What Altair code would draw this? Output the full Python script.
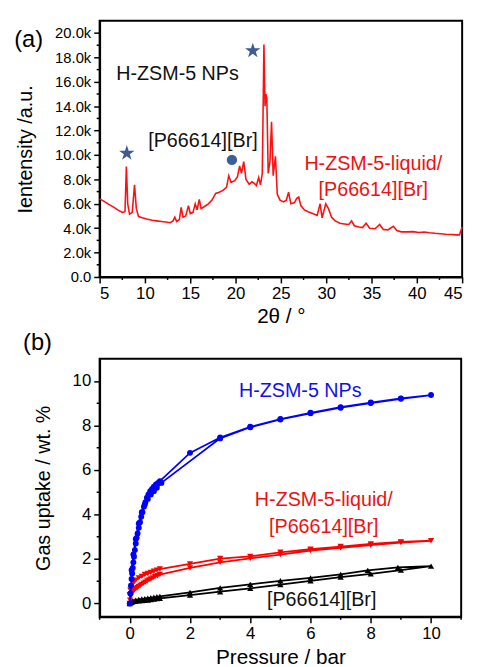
import altair as alt
import pandas as pd

FONT = "Liberation Sans"

# ---------------- Panel (a): XRD pattern ----------------
xrd_2theta = [5.0, 5.5, 6.0, 6.5, 7.0, 7.5, 7.8, 7.95, 8.1, 8.3, 8.6, 8.85, 9.05, 9.3, 9.7,
              10.2, 10.8, 11.3, 11.8, 12.3, 12.8, 13.1, 13.3, 13.5, 13.8, 14.0, 14.2, 14.5,
              14.8, 15.0, 15.3, 15.55, 15.75, 16.0, 16.2, 16.6, 17.0, 17.4, 17.8, 18.2, 18.6,
              19.0, 19.25, 19.5, 19.9, 20.2, 20.45, 20.65, 20.9, 21.15, 21.5, 21.8, 22.1,
              22.3, 22.55, 22.75, 22.95, 23.13, 23.25, 23.35, 23.45, 23.6, 23.8, 23.97,
              24.15, 24.4, 24.6, 24.9, 25.3, 25.6, 25.85, 26.1, 26.5, 26.75, 26.97, 27.2,
              27.6, 28.0, 28.5, 29.0, 29.33, 29.55, 29.95, 30.25, 30.6, 31.0, 31.5, 32.0,
              32.5, 32.8, 33.1, 33.6, 34.0, 34.4, 34.8, 35.4, 35.9, 36.3, 36.8, 37.4, 37.8,
              38.3, 39.0, 39.6, 40.2, 40.8, 41.4, 42.0, 42.6, 43.2, 43.8, 44.3, 44.7, 45.0]
xrd_intensity = [6400, 6200, 5950, 5750, 5500, 5300, 5350, 9050, 6000, 5150, 5300, 7550, 5600,
                 4950, 4850, 4750, 4650, 4600, 4550, 4500, 4450, 4600, 4900, 4550, 4700, 5700,
                 4900, 5000, 5850, 5200, 5300, 6000, 5500, 6350, 5600, 5800, 6000, 6300, 6850,
                 6950, 7100, 7350, 8300, 7750, 7900, 8200, 9100, 8500, 9450, 8000, 7600, 7800,
                 7650, 7500, 8150, 7550, 8500, 19060, 14000, 15000, 14600, 8500, 9500, 12730,
                 8300, 9900, 6800, 6300, 6150, 6300, 6950, 6000, 6100, 6450, 6550, 5850, 5500,
                 5350, 5200, 5050, 6000, 4850, 6000, 5600, 4900, 4600, 4400, 4350, 4300, 4600,
                 4200, 4100, 4050, 4400, 4000, 3950, 4300, 3900, 3850, 4150, 3800, 3700, 3700,
                 3720, 3650, 3680, 3620, 3580, 3550, 3500, 3480, 3450, 3450, 4100]

a_x_major = [5, 10, 15, 20, 25, 30, 35, 40, 45]
a_x_minor = [7.5, 12.5, 17.5, 22.5, 27.5, 32.5, 37.5, 42.5]
a_y_major = [0, 2000, 4000, 6000, 8000, 10000, 12000, 14000, 16000, 18000, 20000]
a_y_minor = [1000, 3000, 5000, 7000, 9000, 11000, 13000, 15000, 17000, 19000]

star_x = [21.9, 8.0]
star_y = [18550, 10150]
circle_x = [19.6]
circle_y = [9600]

a_black_text = ["H-ZSM-5 NPs", "[P66614][Br]"]
a_black_x = [13.6, 16.4]
a_black_y = [16600, 11130]
a_red_text = ["H-ZSM-5-liquid/", "[P66614][Br]"]
a_red_x = [35.2, 35.2]
a_red_y = [9270, 7100]

# ---------------- Panel (b): gas uptake isotherms ----------------
blue_ads_p = [0, 0.02, 0.04, 0.06, 0.08, 0.1, 0.12, 0.14, 0.17, 0.2, 0.23, 0.26, 0.3, 0.34,
              0.38, 0.42, 0.47, 0.52, 0.57, 0.62, 0.68, 0.74, 0.8, 0.87, 0.94, 1.0, 2.0, 3.0,
              4.0, 5.0, 6.0, 7.0, 8.0, 9.0, 10.0]
blue_ads_y = [0.0, 0.45, 0.8, 1.1, 1.35, 1.6, 1.85, 2.1, 2.4, 2.7, 2.95, 3.15, 3.4, 3.65,
              3.9, 4.1, 4.35, 4.55, 4.75, 4.9, 5.05, 5.15, 5.25, 5.35, 5.42, 5.5, 6.77, 7.46,
              7.94, 8.29, 8.57, 8.82, 9.03, 9.22, 9.37]
blue_des_p = [9.0, 8.0, 7.0, 6.0, 5.0, 4.0, 3.0, 1.05, 0.9, 0.8, 0.7, 0.6, 0.5, 0.4, 0.3,
              0.2, 0.12, 0.06]
blue_des_y = [9.2, 9.01, 8.8, 8.55, 8.27, 7.92, 7.42, 5.42, 5.2, 5.05, 4.9, 4.7, 4.45, 4.1,
              3.6, 2.9, 2.2, 1.5]

red_ads_p = [0, 0.01, 0.03, 0.06, 0.1, 0.15, 0.2, 0.25, 0.3, 0.35, 0.4, 0.46, 0.52, 0.58,
             0.64, 0.7, 0.77, 0.84, 0.92, 1.0, 2.0, 3.0, 4.0, 5.0, 6.0, 7.0, 8.0, 9.0, 10.0]
red_ads_y = [0.0, 0.15, 0.3, 0.42, 0.52, 0.6, 0.66, 0.71, 0.76, 0.81, 0.86, 0.91, 0.96, 1.01,
             1.06, 1.1, 1.15, 1.2, 1.25, 1.3, 1.6, 1.85, 2.03, 2.2, 2.38, 2.5, 2.62, 2.74, 2.82]
red_des_p = [9.0, 8.0, 7.0, 6.0, 5.0, 4.0, 3.0, 2.0, 1.0, 0.9, 0.8, 0.7, 0.6, 0.5, 0.4, 0.3,
             0.2, 0.12, 0.06, 0.02, 0.0]
red_des_y = [2.77, 2.68, 2.56, 2.44, 2.3, 2.12, 2.02, 1.78, 1.55, 1.5, 1.45, 1.4, 1.35, 1.3,
             1.22, 1.15, 1.05, 0.92, 0.78, 0.6, 0.4]

black_ads_p = [0, 0.03, 0.06, 0.1, 0.15, 0.2, 0.3, 0.4, 0.5, 0.6, 0.7, 0.8, 0.9, 1.0, 2.0,
               3.0, 4.0, 5.0, 6.0, 7.0, 8.0, 9.0, 10.0]
black_ads_y = [0.0, 0.04, 0.07, 0.09, 0.1, 0.11, 0.12, 0.13, 0.14, 0.16, 0.18, 0.2, 0.22,
               0.23, 0.38, 0.53, 0.68, 0.85, 1.02, 1.19, 1.33, 1.5, 1.68]
black_des_p = [8.9, 7.9, 7.0, 6.0, 5.0, 4.0, 3.0, 2.0, 1.0, 0.9, 0.8, 0.7, 0.6, 0.5, 0.4,
               0.3, 0.2, 0.1, 0.05]
black_des_y = [1.62, 1.49, 1.31, 1.15, 1.02, 0.86, 0.7, 0.5, 0.32, 0.3, 0.28, 0.26, 0.24,
               0.22, 0.2, 0.18, 0.15, 0.12, 0.08]

b_x_major = [0, 2, 4, 6, 8, 10]
b_x_minor = [-1, 1, 3, 5, 7, 9, 11]
b_y_major = [0, 2, 4, 6, 8, 10]
b_y_minor = [1, 3, 5, 7, 9]

b_text = ["H-ZSM-5 NPs", "H-ZSM-5-liquid/", "[P66614][Br]", "[P66614][Br]"]
b_text_x = [5.66, 6.44, 6.44, 6.37]
b_text_y = [9.56, 4.63, 3.44, 0.15]
b_text_color = ["#1010ee", "#ee1111", "#ee1111", "#111111"]

A_W, A_H = 368, 260
B_W, B_H = 367, 262

# five-pointed star as a custom symbol path (unit box -1..1)
STAR = ("M0,-1L0.2245,-0.309L0.951,-0.309L0.363,0.118L0.588,0.809L0,0.382"
        "L-0.588,0.809L-0.363,0.118L-0.951,-0.309L-0.2245,-0.309Z")


def axis_common(**kw):
    base = dict(domainColor="black", domainWidth=2, tickColor="black", tickWidth=1.5,
                tickSize=6, labelColor="black", labelFont=FONT, titleFont=FONT,
                titleColor="black", titleFontWeight="normal", grid=False,
                labelOverlap=False, labelPadding=3)
    base.update(kw)
    return alt.Axis(**base)


# ---------------- panel (a) ----------------
xa_scale = alt.Scale(domain=[5, 45], nice=False, zero=False)
ya_scale = alt.Scale(domain=[0, 21000], nice=False)
xa_axis = axis_common(values=a_x_major, labelFontSize=17, title="2θ / °",
                      titleFontSize=21, titlePadding=4)
ya_axis = axis_common(
    values=a_y_major,
    labelExpr="datum.value === 0 ? '0.0' : format(datum.value / 1000, '.1f') + 'k'",
    labelFontSize=15, title="Ientensity /a.u.", titleFontSize=20, titlePadding=19)


def XA(f):
    return alt.X(f, scale=xa_scale, axis=xa_axis)


def YA(f):
    return alt.Y(f, scale=ya_scale, axis=ya_axis)


xrd_df = pd.DataFrame({"theta": xrd_2theta, "intensity": xrd_intensity})
xrd_line = alt.Chart(xrd_df).mark_line(color="#ff1010", strokeWidth=1.6).encode(
    x=XA("theta:Q"), y=YA("intensity:Q"))

minor_xa = alt.Chart(pd.DataFrame({"v": a_x_minor})).mark_rule(
    color="black", strokeWidth=1.5).encode(
    x=XA("v:Q"), y=alt.value(A_H), y2=alt.value(A_H + 3))
minor_ya = alt.Chart(pd.DataFrame({"w": a_y_minor})).mark_rule(
    color="black", strokeWidth=1.5).encode(
    y=YA("w:Q"), x=alt.value(0), x2=alt.value(-3))

stars = alt.Chart(pd.DataFrame({"sx": star_x, "sy": star_y})).mark_point(
    shape=STAR, filled=True, size=270, color="#3b5b92", opacity=1).encode(
    x=XA("sx:Q"), y=YA("sy:Q"))
circle = alt.Chart(pd.DataFrame({"cx": circle_x, "cy": circle_y})).mark_point(
    shape="circle", filled=True, size=110, color="#3b5f98", opacity=1).encode(
    x=XA("cx:Q"), y=YA("cy:Q"))

a_txt_black = alt.Chart(pd.DataFrame({"tx": a_black_x, "ty": a_black_y,
                                      "label": a_black_text})).mark_text(
    font=FONT, fontSize=20, color="#111111", align="center", baseline="middle").encode(
    x=XA("tx:Q"), y=YA("ty:Q"), text="label:N")
a_txt_red = alt.Chart(pd.DataFrame({"tx": a_red_x, "ty": a_red_y,
                                    "label": a_red_text})).mark_text(
    font=FONT, fontSize=20, color="#ee1111", align="center", baseline="middle").encode(
    x=XA("tx:Q"), y=YA("ty:Q"), text="label:N")
a_label = alt.Chart(pd.DataFrame({"label": ["(a)"]})).mark_text(
    font=FONT, fontSize=24, color="black", align="center", baseline="middle").encode(
    x=alt.value(-72), y=alt.value(20), text="label:N")

panel_a = alt.layer(xrd_line, minor_xa, minor_ya, stars, circle, a_txt_black, a_txt_red,
                    a_label).properties(width=A_W, height=A_H)

# ---------------- panel (b) ----------------
xb_scale = alt.Scale(domain=[-1, 11], nice=False, zero=False)
yb_scale = alt.Scale(domain=[-0.6, 11], nice=False, zero=False)
xb_axis = axis_common(values=b_x_major, labelFontSize=17, title="Pressure / bar",
                      titleFontSize=21, titlePadding=5)
yb_axis = axis_common(values=b_y_major, labelFontSize=17, title="Gas uptake / wt. %",
                      titleFontSize=20, titlePadding=19)


def XB(f):
    return alt.X(f, scale=xb_scale, axis=xb_axis)


def YB(f):
    return alt.Y(f, scale=yb_scale, axis=yb_axis)


def series_df(ads_p, ads_y, des_p, des_y):
    p = list(ads_p) + list(des_p)
    u = list(ads_y) + list(des_y)
    return pd.DataFrame({"p": p, "u": u, "k": list(range(len(p)))})


def series_layers(df, color, shape, size):
    line = alt.Chart(df).mark_line(color=color, strokeWidth=1.8).encode(
        x=XB("p:Q"), y=YB("u:Q"), order="k:Q")
    pts = alt.Chart(df).mark_point(shape=shape, filled=True, size=size, color=color,
                                   opacity=1).encode(x=XB("p:Q"), y=YB("u:Q"))
    return [line, pts]


blue_df = series_df(blue_ads_p, blue_ads_y, blue_des_p, blue_des_y)
red_df = series_df(red_ads_p, red_ads_y, red_des_p, red_des_y)
black_df = series_df(black_ads_p, black_ads_y, black_des_p, black_des_y)

b_layers = []
b_layers += series_layers(black_df, "#000000", "triangle-up", 40)
b_layers += series_layers(red_df, "#ff0000", "triangle-down", 40)
b_layers += series_layers(blue_df, "#0000ff", "circle", 36)

minor_xb = alt.Chart(pd.DataFrame({"v": b_x_minor})).mark_rule(
    color="black", strokeWidth=1.5).encode(
    x=XB("v:Q"), y=alt.value(B_H), y2=alt.value(B_H + 3))
minor_yb = alt.Chart(pd.DataFrame({"w": b_y_minor})).mark_rule(
    color="black", strokeWidth=1.5).encode(
    y=YB("w:Q"), x=alt.value(0), x2=alt.value(-3))

b_txt = alt.Chart(pd.DataFrame({"tx": b_text_x, "ty": b_text_y, "label": b_text,
                                "c": b_text_color})).mark_text(
    font=FONT, fontSize=20, align="center", baseline="middle").encode(
    x=XB("tx:Q"), y=YB("ty:Q"), text="label:N", color=alt.Color("c:N", scale=None))
b_label = alt.Chart(pd.DataFrame({"label": ["(b)"]})).mark_text(
    font=FONT, fontSize=24, color="black", align="center", baseline="middle").encode(
    x=alt.value(-63), y=alt.value(-16), text="label:N")

panel_b = alt.layer(*b_layers, minor_xb, minor_yb, b_txt, b_label).properties(
    width=B_W, height=B_H)

chart = alt.vconcat(panel_a, panel_b, spacing=83, bounds="flush").properties(
    padding={"left": 5, "top": 7, "right": 5, "bottom": 2},
    background="white",
).configure_view(stroke="black", strokeWidth=2).configure_axis(labelOverlap=False)

chart.save("out.html", embed_options={"renderer": "svg", "actions": False})
